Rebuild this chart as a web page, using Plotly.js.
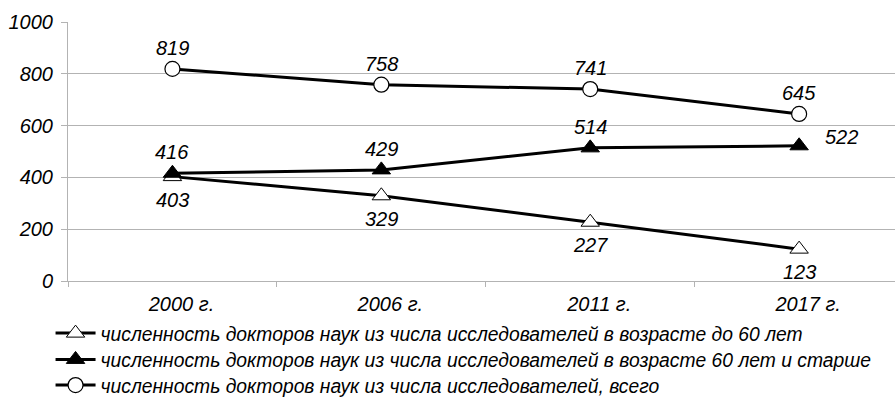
<!DOCTYPE html>
<html>
<head>
<meta charset="utf-8">
<script src="https://cdn.plot.ly/plotly-3.0.1.min.js"></script>
<style>html,body{margin:0;padding:0;background:#fff;}#chart{width:895px;height:405px;}</style>
</head>
<body>
<div id="chart"></div>
<script>
var categories = ["2000 г.", "2006 г.", "2011 г.", "2017 г."];
var under60 = [403, 329, 227, 123];
var over60 = [416, 429, 514, 522];
var total = [819, 758, 741, 645];
var names = [
  "численность докторов наук из числа исследователей в возрасте до 60 лет",
  "численность докторов наук из числа исследователей в возрасте 60 лет и старше",
  "численность докторов наук из числа исследователей, всего"
];
var yTicks = [0, 200, 400, 600, 800, 1000];

var FONT = "Liberation Sans, Arial, sans-serif";
var lineStyle = {color: "#000", width: 3};

var traces = [
  {x: categories, y: under60, name: names[0], type: "scatter", mode: "lines+markers", legend: "legend",
   line: lineStyle, marker: {symbol: "triangle-up", size: 16, color: "#fff", line: {color: "#000", width: 1}}},
  {x: categories, y: over60, name: names[1], type: "scatter", mode: "lines+markers", legend: "legend2",
   line: lineStyle, marker: {symbol: "triangle-up", size: 16, color: "#000", line: {color: "#000", width: 1}}},
  {x: categories, y: total, name: names[2], type: "scatter", mode: "lines+markers", legend: "legend3",
   line: lineStyle, marker: {symbol: "circle", size: 15, color: "#fff", line: {color: "#000", width: 1.2}}}
];

var labelFont = {family: FONT, size: 20, color: "#000", style: "italic"};
var legendFont = {family: FONT, size: 19.3, color: "#000", style: "italic"};
var annotations = [];
function addLabels(vals, yshift, special) {
  vals.forEach(function (v, i) {
    var a = {x: categories[i], y: v, xref: "x", yref: "y", text: String(v), showarrow: false,
      yshift: yshift, xshift: 0, font: labelFont};
    if (special && special[i]) { a.xshift = special[i][0]; a.yshift = special[i][1]; }
    annotations.push(a);
  });
}
addLabels(under60, -23);
addLabels(over60, 21, {3: [42, 9]});
addLabels(total, 21);

function legendAt(py) {
  return {orientation: "v", x: -0.0211, xanchor: "left", y: (288 - py) / 266, yanchor: "middle",
    font: legendFont, bgcolor: "rgba(0,0,0,0)", borderwidth: 0, itemwidth: 40};
}

var layout = {
  width: 895, height: 405,
  margin: {l: 67.5, r: 0, t: 22, b: 117, pad: 0},
  paper_bgcolor: "#fff", plot_bgcolor: "#fff",
  font: labelFont,
  showlegend: true,
  legend: legendAt(342),
  legend2: legendAt(369),
  legend3: legendAt(396),
  xaxis: {type: "category", range: [-0.5, 3.459], showgrid: false, zeroline: false,
    showline: true, linecolor: "#b3b3b3", linewidth: 1,
    ticks: "outside", tickson: "boundaries", ticklen: 5, tickcolor: "#b3b3b3",
    ticklabelshift: 9, ticklabelstandoff: 5,
    tickfont: labelFont, fixedrange: true},
  yaxis: {range: [0, 1000], tickvals: yTicks, ticktext: yTicks.map(String),
    showgrid: true, gridcolor: "#b3b3b3", gridwidth: 1, zeroline: false,
    showline: true, linecolor: "#b3b3b3", linewidth: 1,
    ticks: "outside", ticklen: 6, tickcolor: "#b3b3b3", ticklabelstandoff: 4,
    tickfont: labelFont, fixedrange: true},
  annotations: annotations
};

Plotly.newPlot("chart", traces, layout, {displayModeBar: false, staticPlot: true});
</script>
</body>
</html>
